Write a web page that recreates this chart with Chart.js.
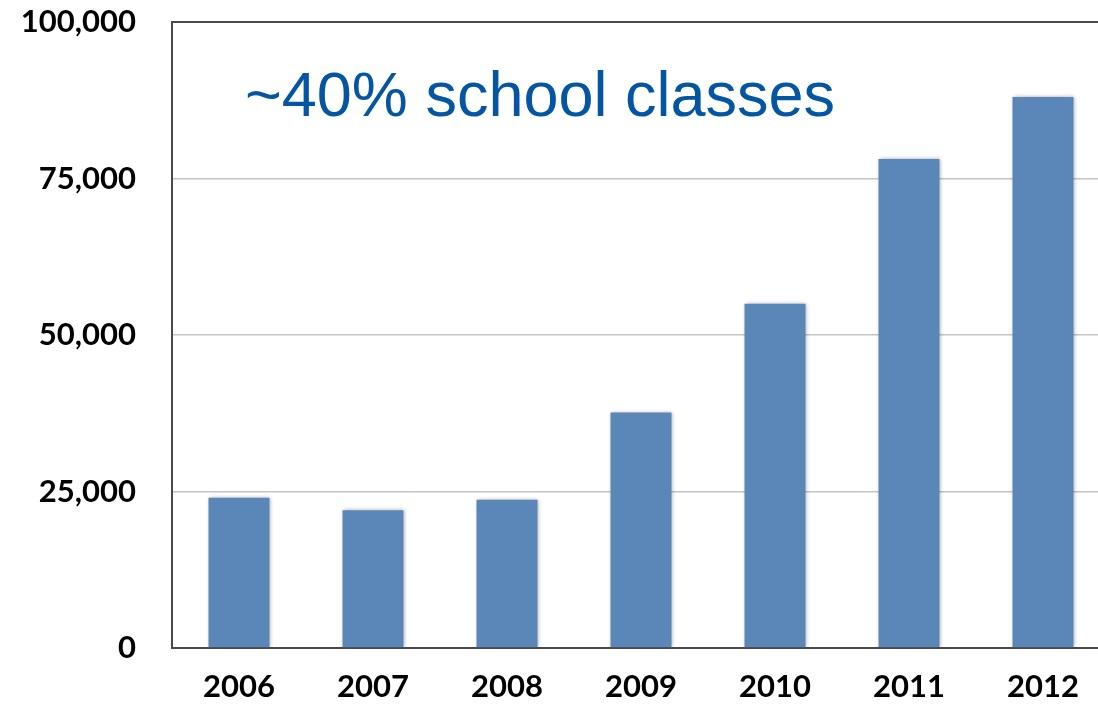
<!DOCTYPE html>
<html>
<head>
<meta charset="utf-8">
<script src="https://cdn.jsdelivr.net/npm/chart.js@4/dist/chart.umd.min.js"></script>
<style>
  html, body { margin: 0; padding: 0; background: #fff; overflow: hidden; }
  #wrap { width: 1110px; height: 705px; }
</style>
</head>
<body>
<div id="wrap"><canvas id="bar-chart"></canvas></div>
<script>
const years  = ['2006', '2007', '2008', '2009', '2010', '2011', '2012'];
const counts = [24000, 22000, 23700, 37600, 55000, 78100, 88000];
const yTicks = [0, 25000, 50000, 75000, 100000];
const note   = '~40% school classes';

const tickFont = { family: 'Lato, "Open Sans", sans-serif', size: 31, weight: 'bold' };

// soft shadow behind the bars, like the original
const barShadow = {
  id: 'barShadow',
  beforeDatasetsDraw(chart) {
    const c = chart.ctx;
    c.save();
    c.shadowColor = 'rgba(0,0,0,0.35)';
    c.shadowBlur = 4;
    c.shadowOffsetX = 1;
    c.shadowOffsetY = 0;
  },
  afterDatasetsDraw(chart) {
    chart.ctx.restore();
  },
};

const noteText = {
  id: 'noteText',
  afterDraw(chart) {
    const c = chart.ctx;
    const x = chart.scales.x.getPixelForValue(0) + 6;
    const y = chart.scales.y.getPixelForValue(85000);
    c.save();
    c.fillStyle = '#0456a2';
    c.font = '63px "Liberation Sans", Arial, sans-serif';
    c.textBaseline = 'alphabetic';
    c.textAlign = 'left';
    c.fillText(note, x, y);
    c.restore();
  },
};

new Chart(document.getElementById('bar-chart'), {
  type: 'bar',
  data: {
    labels: years,
    datasets: [{
      data: counts,
      backgroundColor: '#5b86b8',
      borderWidth: 0,
      barPercentage: 0.455,
      categoryPercentage: 1,
    }],
  },
  options: {
    responsive: true,
    maintainAspectRatio: false,
    animation: false,
    layout: { padding: { top: 22, right: 0, left: 0, bottom: 0 } },
    plugins: {
      legend: { display: false },
      tooltip: { enabled: false },
    },
    scales: {
      x: {
        grid: { display: false, drawTicks: false },
        border: { display: true, color: '#4a4a4a', width: 2 },
        ticks: { color: '#000', font: tickFont, padding: 20 },
        afterFit: s => {
          s.height = 57;
          s.paddingLeft = 0;
          s.paddingRight = 0;
        },
      },
      y: {
        min: 0,
        max: 100000,
        afterBuildTicks: s => { s.ticks = yTicks.map(v => ({ value: v })); },
        grid: {
          drawTicks: false,
          color: ctx => (ctx.tick && (ctx.tick.value === 100000 || ctx.tick.value === 0)) ? '#4a4a4a' : '#c4c4c4',
          lineWidth: ctx => (ctx.tick && ctx.tick.value === 100000) ? 2 : 1.5,
        },
        border: { display: true, color: '#4a4a4a', width: 2 },
        ticks: {
          color: '#000',
          font: tickFont,
          padding: 36,
          callback: v => v.toLocaleString('en-US'),
        },
        afterFit: s => {
          s.width = 172;
          s.paddingTop = 0;
          s.paddingBottom = 0;
        },
      },
    },
  },
  plugins: [barShadow, noteText],
});
</script>
</body>
</html>
